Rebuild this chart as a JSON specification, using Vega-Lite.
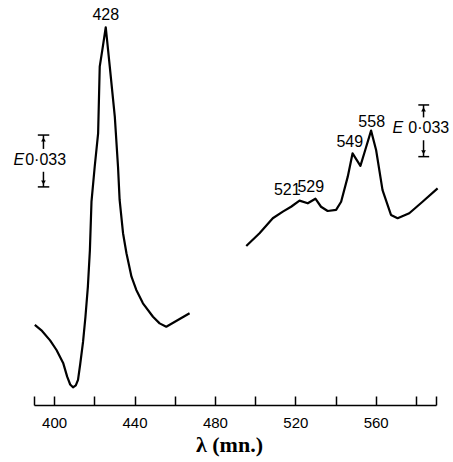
{
  "$schema": "https://vega.github.io/schema/vega-lite/v6.json",
  "autosize": {"type": "none"},
  "width": 402,
  "height": 405,
  "padding": {"left": 34, "top": 0, "right": 17, "bottom": 57},
  "background": "white",
  "config": {"view": {"stroke": null}},
  "datasets": {
    "spectrum": [
      {"segment": "A", "wavelength": 390.4, "E": 0.0508},
      {"segment": "A", "wavelength": 394.0, "E": 0.0470},
      {"segment": "A", "wavelength": 398.0, "E": 0.0410},
      {"segment": "A", "wavelength": 401.2, "E": 0.0349},
      {"segment": "A", "wavelength": 404.5, "E": 0.0267},
      {"segment": "A", "wavelength": 406.5, "E": 0.0180},
      {"segment": "A", "wavelength": 408.0, "E": 0.0130},
      {"segment": "A", "wavelength": 409.4, "E": 0.0112},
      {"segment": "A", "wavelength": 410.8, "E": 0.0125},
      {"segment": "A", "wavelength": 411.9, "E": 0.0160},
      {"segment": "A", "wavelength": 413.0, "E": 0.0260},
      {"segment": "A", "wavelength": 414.4, "E": 0.0400},
      {"segment": "A", "wavelength": 415.6, "E": 0.0560},
      {"segment": "A", "wavelength": 416.8, "E": 0.0750},
      {"segment": "A", "wavelength": 417.8, "E": 0.0980},
      {"segment": "A", "wavelength": 418.6, "E": 0.1290},
      {"segment": "A", "wavelength": 420.2, "E": 0.1512},
      {"segment": "A", "wavelength": 421.9, "E": 0.1724},
      {"segment": "A", "wavelength": 422.7, "E": 0.2147},
      {"segment": "A", "wavelength": 424.0, "E": 0.2253},
      {"segment": "A", "wavelength": 425.7, "E": 0.2397},
      {"segment": "A", "wavelength": 427.7, "E": 0.2147},
      {"segment": "A", "wavelength": 430.2, "E": 0.1830},
      {"segment": "A", "wavelength": 431.8, "E": 0.1512},
      {"segment": "A", "wavelength": 432.6, "E": 0.1301},
      {"segment": "A", "wavelength": 434.3, "E": 0.1090},
      {"segment": "A", "wavelength": 436.0, "E": 0.0963},
      {"segment": "A", "wavelength": 438.5, "E": 0.0814},
      {"segment": "A", "wavelength": 440.9, "E": 0.0730},
      {"segment": "A", "wavelength": 444.2, "E": 0.0645},
      {"segment": "A", "wavelength": 449.2, "E": 0.0560},
      {"segment": "A", "wavelength": 452.5, "E": 0.0518},
      {"segment": "A", "wavelength": 455.8, "E": 0.0497},
      {"segment": "A", "wavelength": 461.6, "E": 0.0539},
      {"segment": "A", "wavelength": 467.4, "E": 0.0582},
      {"segment": "B", "wavelength": 495.6, "E": 0.1009},
      {"segment": "B", "wavelength": 502.2, "E": 0.1090},
      {"segment": "B", "wavelength": 508.8, "E": 0.1185},
      {"segment": "B", "wavelength": 513.8, "E": 0.1227},
      {"segment": "B", "wavelength": 517.9, "E": 0.1258},
      {"segment": "B", "wavelength": 522.1, "E": 0.1297},
      {"segment": "B", "wavelength": 526.2, "E": 0.1280},
      {"segment": "B", "wavelength": 530.0, "E": 0.1309},
      {"segment": "B", "wavelength": 532.8, "E": 0.1258},
      {"segment": "B", "wavelength": 536.1, "E": 0.1231},
      {"segment": "B", "wavelength": 540.3, "E": 0.1238},
      {"segment": "B", "wavelength": 542.8, "E": 0.1290},
      {"segment": "B", "wavelength": 546.1, "E": 0.1449},
      {"segment": "B", "wavelength": 548.5, "E": 0.1597},
      {"segment": "B", "wavelength": 552.4, "E": 0.1517},
      {"segment": "B", "wavelength": 554.8, "E": 0.1618},
      {"segment": "B", "wavelength": 557.7, "E": 0.1741},
      {"segment": "B", "wavelength": 560.2, "E": 0.1618},
      {"segment": "B", "wavelength": 563.4, "E": 0.1364},
      {"segment": "B", "wavelength": 567.6, "E": 0.1206},
      {"segment": "B", "wavelength": 570.9, "E": 0.1185},
      {"segment": "B", "wavelength": 576.7, "E": 0.1217},
      {"segment": "B", "wavelength": 583.3, "E": 0.1290},
      {"segment": "B", "wavelength": 590.8, "E": 0.1375}
    ],
    "peaks": [
      {"label": "428", "wavelength": 425.7, "E": 0.2475},
      {"label": "521", "wavelength": 516.0, "E": 0.1365},
      {"label": "529", "wavelength": 527.7, "E": 0.1386},
      {"label": "549", "wavelength": 547.1, "E": 0.1672},
      {"label": "558", "wavelength": 558.0, "E": 0.1799}
    ],
    "bars": [
      {"wavelength": 394.7, "wavelength2": 394.7, "E": 0.1713, "E2": 0.1625},
      {"wavelength": 394.7, "wavelength2": 394.7, "E": 0.1480, "E2": 0.1384},
      {"wavelength": 391.9, "wavelength2": 397.6, "E": 0.1713, "E2": 0.1713},
      {"wavelength": 391.9, "wavelength2": 397.6, "E": 0.1384, "E2": 0.1384},
      {"wavelength": 583.8, "wavelength2": 583.8, "E": 0.1904, "E2": 0.1825},
      {"wavelength": 583.8, "wavelength2": 583.8, "E": 0.1680, "E2": 0.1576},
      {"wavelength": 581.2, "wavelength2": 586.6, "E": 0.1904, "E2": 0.1904},
      {"wavelength": 581.2, "wavelength2": 586.6, "E": 0.1576, "E2": 0.1576}
    ],
    "arrows": [
      {"wavelength": 394.7, "E": 0.1685, "dir": "up"},
      {"wavelength": 394.7, "E": 0.1412, "dir": "down"},
      {"wavelength": 583.8, "E": 0.1876, "dir": "up"},
      {"wavelength": 583.8, "E": 0.1604, "dir": "down"}
    ],
    "barlabels": [
      {"part": "E", "wavelength": 382.5, "E": 0.1555},
      {"part": "0·033", "wavelength": 395.8, "E": 0.1555},
      {"part": "E", "wavelength": 571.0, "E": 0.1758},
      {"part": "0·033", "wavelength": 586.4, "E": 0.1758}
    ]
  },
  "encoding": {
    "x": {
      "field": "wavelength",
      "type": "quantitative",
      "scale": {"domain": [390, 590], "nice": false, "zero": false},
      "axis": {
        "values": [390, 400, 420, 440, 460, 480, 500, 520, 540, 560, 580, 590],
        "labelExpr": "datum.value % 40 === 0 ? datum.label : ''",
        "grid": false,
        "domainColor": "black",
        "domainWidth": 1.5,
        "tickColor": "black",
        "tickWidth": 1.5,
        "tickSize": -9,
        "labelPadding": 19,
        "labelFont": "Liberation Sans",
        "labelFontSize": 15,
        "labelColor": "black",
        "labelFlush": false,
        "labelOverlap": false,
        "title": "λ (mn.)",
        "titleFont": "Liberation Serif",
        "titleFontSize": 22,
        "titleFontWeight": "bold",
        "titleColor": "black",
        "titlePadding": 4,
        "titleX": 195
      }
    },
    "y": {
      "field": "E",
      "type": "quantitative",
      "scale": {"domain": [0, 0.257], "nice": false, "zero": false},
      "axis": null
    }
  },
  "layer": [
    {
      "data": {"name": "spectrum"},
      "mark": {"type": "line", "color": "black", "strokeWidth": 2.2, "strokeJoin": "round"},
      "encoding": {"detail": {"field": "segment"}}
    },
    {
      "data": {"name": "peaks"},
      "mark": {"type": "text", "font": "Liberation Sans", "fontSize": 16, "color": "black", "align": "center", "baseline": "middle"},
      "encoding": {"text": {"field": "label"}}
    },
    {
      "data": {"name": "bars"},
      "mark": {"type": "rule", "color": "black", "strokeWidth": 1.5},
      "encoding": {"x2": {"field": "wavelength2"}, "y2": {"field": "E2"}}
    },
    {
      "data": {"name": "arrows"},
      "mark": {"type": "point", "filled": true, "color": "black", "size": 22, "opacity": 1},
      "encoding": {
        "shape": {"field": "dir", "type": "nominal", "scale": {"domain": ["up", "down"], "range": ["triangle-up", "triangle-down"]}, "legend": null}
      }
    },
    {
      "data": {"name": "barlabels"},
      "transform": [{"filter": "datum.part === 'E'"}],
      "mark": {"type": "text", "font": "Liberation Sans", "fontSize": 16, "fontStyle": "italic", "color": "black", "align": "center", "baseline": "middle"},
      "encoding": {"text": {"field": "part"}}
    },
    {
      "data": {"name": "barlabels"},
      "transform": [{"filter": "datum.part !== 'E'"}],
      "mark": {"type": "text", "font": "Liberation Sans", "fontSize": 16, "color": "black", "align": "center", "baseline": "middle"},
      "encoding": {"text": {"field": "part"}}
    }
  ]
}
